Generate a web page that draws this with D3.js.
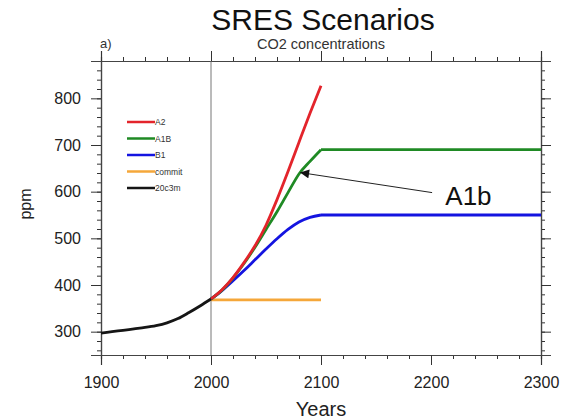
<!DOCTYPE html>
<html>
<head>
<meta charset="utf-8">
<script src="https://cdn.jsdelivr.net/npm/d3@7"></script>
<style>
  body { margin: 0; background: #fff; }
  svg { font-family: "Liberation Sans", Arial, sans-serif; }
</style>
</head>
<body>
<div id="chart"></div>
<script>
// data
var yearsHist = [1900, 1910, 1920, 1930, 1940, 1950, 1960, 1970, 1980, 1990, 2000];
var c20c3m = [297, 300, 303, 306, 309, 313, 319, 328, 341, 355, 370];

var yearsFut = [2000, 2010, 2020, 2030, 2040, 2050, 2060, 2070, 2080, 2090, 2100];
var a2 = [370, 390, 416, 448, 484, 528, 583, 643, 706, 768, 827];
var a1b = [370, 389, 415, 446, 481, 519, 557, 598, 638, 665, 690];
var b1 = [370, 388, 409, 431, 454, 477, 499, 519, 535, 545, 550];
var commit = [368, 368, 368, 368, 368, 368, 368, 368, 368, 368, 368];

var yearsStab = [2100, 2300];
var a1bStab = [690, 690];
var b1Stab = [550, 550];

var xTicks = [1900, 2000, 2100, 2200, 2300];
var yTicks = [300, 400, 500, 600, 700, 800];

var legendNames = ["A2", "A1B", "B1", "commit", "20c3m"];
var legendColors = ["#e3242b", "#1f8a24", "#1414e0", "#f5a73a", "#151515"];

// arrow annotation (data coords): tail, tip
var arrowFrom = [2201, 598];
var arrowTo = [2081, 641];

function paint() {
    var width = 570, height = 419;
    var margin = { top: 61, right: 29, bottom: 64, left: 101 };
    var w = width - margin.left - margin.right,
        h = height - margin.top - margin.bottom;

    var svg = d3.select("#chart").append("svg")
        .attr("width", width)
        .attr("height", height);

    var g = svg.append("g")
        .attr("transform", "translate(" + margin.left + "," + margin.top + ")");

    var x = d3.scaleLinear().domain([1900, 2300]).range([0, w]);
    var y = d3.scaleLinear().domain([250, 880]).range([h, 0]);

    var xMinor = d3.range(1900, 2301, 20);
    var yMinor = d3.range(260, 881, 20);

    // axes on all four sides, ticks outward
    function axisGroup(axis, tr) {
        var a = g.append("g").attr("transform", tr).call(axis);
        a.selectAll("path, line").attr("stroke", "#333");
        return a;
    }
    var tickFmt = d3.format("d");

    axisGroup(d3.axisBottom(x).tickValues(xMinor).tickSize(4).tickFormat(""), "translate(0," + h + ")");
    axisGroup(d3.axisTop(x).tickValues(xMinor).tickSize(4).tickFormat(""), "translate(0,0)");
    axisGroup(d3.axisLeft(y).tickValues(yMinor).tickSize(4).tickFormat(""), "translate(0,0)");
    axisGroup(d3.axisRight(y).tickValues(yMinor).tickSize(4).tickFormat(""), "translate(" + w + ",0)");

    var xb = axisGroup(d3.axisBottom(x).tickValues(xTicks).tickSize(10).tickPadding(12).tickFormat(tickFmt), "translate(0," + h + ")");
    axisGroup(d3.axisTop(x).tickValues(xTicks).tickSize(10).tickFormat(""), "translate(0,0)");
    var yl = axisGroup(d3.axisLeft(y).tickValues(yTicks).tickSize(10).tickPadding(10).tickFormat(tickFmt), "translate(0,0)");
    axisGroup(d3.axisRight(y).tickValues(yTicks).tickSize(10).tickFormat(""), "translate(" + w + ",0)");

    xb.selectAll("text").style("font-size", "16px").attr("fill", "#222");
    yl.selectAll("text").style("font-size", "16px").attr("fill", "#222");
    g.selectAll(".domain").attr("stroke", "#444").attr("stroke-width", 1.2);

    // vertical line at 2000
    g.append("line")
        .attr("x1", x(2000)).attr("x2", x(2000))
        .attr("y1", 0).attr("y2", h)
        .attr("stroke", "#666").attr("stroke-width", 0.9);

    var line = d3.line()
        .x(function (d) { return x(d[0]); })
        .y(function (d) { return y(d[1]); })
        .curve(d3.curveMonotoneX);

    function draw(xs, ys, color) {
        g.append("path")
            .datum(d3.zip(xs, ys))
            .attr("d", line)
            .attr("fill", "none")
            .attr("stroke", color)
            .attr("stroke-width", 2.8)
            .attr("stroke-linejoin", "round");
    }

    draw(yearsFut, commit, legendColors[3]);
    draw(yearsFut, b1, legendColors[2]);
    draw(yearsStab, b1Stab, legendColors[2]);
    draw(yearsFut, a1b, legendColors[1]);
    draw(yearsStab, a1bStab, legendColors[1]);
    draw(yearsFut, a2, legendColors[0]);
    draw(yearsHist, c20c3m, legendColors[4]);

    // legend
    var leg = g.append("g").attr("transform", "translate(26,61)");
    legendNames.forEach(function (name, i) {
        leg.append("line")
            .attr("x1", 0).attr("x2", 28)
            .attr("y1", i * 16.5).attr("y2", i * 16.5)
            .attr("stroke", legendColors[i]).attr("stroke-width", 2.5);
        leg.append("text")
            .attr("x", 28).attr("y", i * 16.5 + 3)
            .style("font-size", "8.5px").attr("fill", "#333")
            .text(name);
    });

    // arrow annotation
    svg.append("defs").append("marker")
        .attr("id", "head")
        .attr("viewBox", "0 0 10 10")
        .attr("refX", 10).attr("refY", 5)
        .attr("markerWidth", 11).attr("markerHeight", 9)
        .attr("markerUnits", "userSpaceOnUse")
        .attr("orient", "auto")
        .append("path").attr("d", "M0,0L10,5L0,10Z").attr("fill", "#111");

    g.append("line")
        .attr("x1", x(arrowFrom[0])).attr("y1", y(arrowFrom[1]))
        .attr("x2", x(arrowTo[0])).attr("y2", y(arrowTo[1]))
        .attr("stroke", "#222").attr("stroke-width", 1)
        .attr("marker-end", "url(#head)");

    g.append("text")
        .attr("x", x(2213)).attr("y", y(571))
        .style("font-size", "26px").attr("fill", "#111")
        .text("A1b");

    // titles
    svg.append("text")
        .attr("x", 323).attr("y", 30)
        .attr("text-anchor", "middle")
        .style("font-size", "30px").attr("fill", "#111")
        .text("SRES Scenarios");

    svg.append("text")
        .attr("x", margin.left + w / 2).attr("y", 49)
        .attr("text-anchor", "middle")
        .style("font-size", "14.5px").attr("fill", "#333")
        .text("CO2 concentrations");

    svg.append("text")
        .attr("x", 100).attr("y", 48)
        .style("font-size", "13px").attr("fill", "#333")
        .text("a)");

    svg.append("text")
        .attr("transform", "translate(31," + 204 + ") rotate(-90)")
        .attr("text-anchor", "middle")
        .style("font-size", "16px").attr("fill", "#222")
        .text("ppm");

    svg.append("text")
        .attr("x", margin.left + w / 2).attr("y", 416)
        .attr("text-anchor", "middle")
        .style("font-size", "20px").attr("fill", "#222")
        .text("Years");
}

paint();
</script>
</body>
</html>
